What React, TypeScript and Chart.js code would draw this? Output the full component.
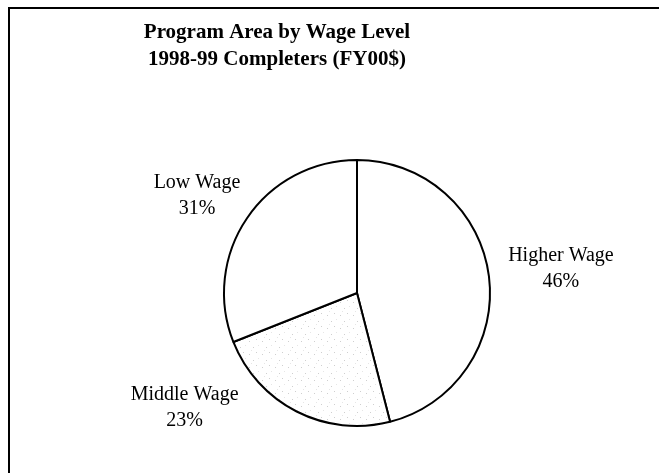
import React, { useEffect, useRef } from "react";
import { Chart, registerables } from "chart.js";

Chart.register(...registerables);

const titleLines = ["Program Area by Wage Level", "1998-99 Completers (FY00$)"];
const categories = ["Higher Wage", "Middle Wage", "Low Wage"];
const shares = [46, 23, 31];

function makeStipple(): CanvasPattern | string {
  const c = document.createElement("canvas");
  c.width = 13;
  c.height = 13;
  const g = c.getContext("2d");
  if (!g) return "#f6f6f6";
  g.fillStyle = "#ffffff";
  g.fillRect(0, 0, 13, 13);
  g.fillStyle = "#cfcfcf";
  g.fillRect(2, 3, 1, 1);
  g.fillRect(9, 1, 1, 1);
  g.fillRect(6, 9, 1, 1);
  g.fillStyle = "#e6e6e6";
  g.fillRect(11, 7, 1, 1);
  g.fillRect(4, 12, 1, 1);
  const p = g.createPattern(c, "repeat");
  return p || "#f6f6f6";
}

const labelPlugin = {
  id: "excelLabels",
  afterDraw(chart: any, _args: any, opts: any) {
    const ctx = chart.ctx;
    ctx.save();
    ctx.fillStyle = "#000";
    ctx.font = "bold 21px 'Liberation Serif'";
    ctx.textAlign = "center";
    ctx.textBaseline = "alphabetic";
    titleLines.forEach((t, i) => ctx.fillText(t, opts.titleX, opts.titleY + i * 27));
    ctx.font = "20px 'Liberation Serif'";
    const meta = chart.getDatasetMeta(0);
    const total = shares.reduce((a, b) => a + b, 0);
    meta.data.forEach((arc: any, i: number) => {
      const p = arc.getProps(["x", "y", "startAngle", "endAngle", "outerRadius"], true);
      const mid = (p.startAngle + p.endAngle) / 2;
      const ax = p.x + Math.cos(mid) * p.outerRadius;
      const ay = p.y + Math.sin(mid) * p.outerRadius;
      const off = opts.offsets[i];
      const x = ax + off[0];
      const y = ay + off[1];
      const pct = Math.round((shares[i] / total) * 100) + "%";
      ctx.fillText(categories[i], x, y);
      ctx.fillText(pct, x, y + 26);
    });
    ctx.restore();
  },
};

export default function App() {
  const ref = useRef<HTMLCanvasElement | null>(null);
  useEffect(() => {
    document.body.style.margin = "0";
    if (!ref.current) return;
    const stipple = makeStipple();
    const chart = new Chart(ref.current, {
      type: "pie",
      data: {
        labels: categories,
        datasets: [
          {
            data: shares,
            backgroundColor: ["#ffffff", stipple as any, "#ffffff"],
            borderColor: "#000000",
            borderWidth: 2,
          },
        ],
      },
      options: {
        animation: false,
        responsive: false,
        layout: { padding: { left: 223, right: 168, top: 159, bottom: 46 } },
        plugins: {
          legend: { display: false },
          title: { display: false },
          tooltip: { enabled: false },
          excelLabels: {
            titleX: 277,
            titleY: 38,
            offsets: [
              [72, -15],
              [-112, -12],
              [-50, -30],
            ],
          },
        } as any,
      },
      plugins: [labelPlugin],
    });
    return () => chart.destroy();
  }, []);
  return (
    <div style={{ position: "absolute", left: 0, top: 0, width: 659, height: 473, overflow: "hidden", background: "#fff" }}>
      <div
        style={{
          position: "absolute",
          left: 8,
          top: 7,
          width: 660,
          height: 480,
          borderLeft: "2px solid #000",
          borderTop: "2px solid #000",
        }}
      />
      <canvas ref={ref} width={659} height={473} style={{ position: "absolute", left: 0, top: 0, width: 659, height: 473 }} />
    </div>
  );
}
